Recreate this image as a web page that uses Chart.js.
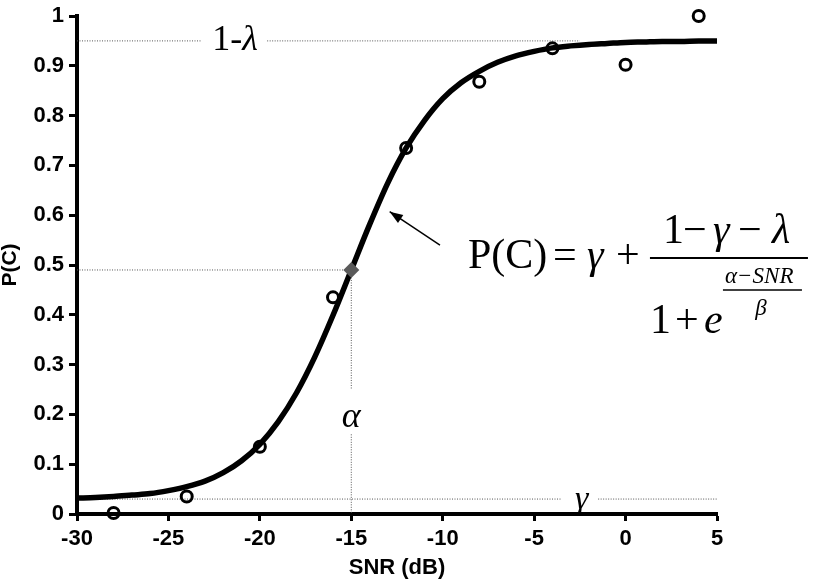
<!DOCTYPE html>
<html>
<head>
<meta charset="utf-8">
<script src="https://cdn.jsdelivr.net/npm/chart.js@4.4.0/dist/chart.umd.min.js"></script>
<style>
  html, body { margin: 0; padding: 0; background: #fff; }
</style>
</head>
<body>
<canvas id="myChart" width="813" height="581"></canvas>
<script>
// measured points (open circles)
let snrPoints = [-28, -24, -20, -16, -12, -8, -4, 0, 4];
let pcPoints = [0.002, 0.035, 0.135, 0.435, 0.735, 0.868, 0.935, 0.902, 1.0];

// fitted curve at each dB
let curveSnr = [-30, -29, -28, -27, -26, -25, -24, -23, -22, -21, -20, -19, -18, -17, -16, -15, -14, -13,
                -12, -11, -10, -9, -8, -7, -6, -5, -4, -3, -2, -1, 0, 1, 2, 3, 4, 5];
let curvePc = [0.032, 0.033, 0.035, 0.038, 0.041, 0.047, 0.055, 0.066, 0.083, 0.107, 0.140, 0.185, 0.243,
               0.315, 0.399, 0.490, 0.581, 0.665, 0.735, 0.790, 0.834, 0.866, 0.889, 0.907, 0.920, 0.929,
               0.936, 0.940, 0.943, 0.945, 0.947, 0.948, 0.949, 0.949, 0.950, 0.950];

// threshold marker
let alphaSnr = [-15];
let alphaPc = [0.49];

// reference levels
let gammaLevel = 0.03;
let upperLevel = 0.95;

let xTicks = [-30, -25, -20, -15, -10, -5, 0, 5];
let yTicks = [0, 0.1, 0.2, 0.3, 0.4, 0.5, 0.6, 0.7, 0.8, 0.9, 1];

const serif = '"Liberation Serif", "Times New Roman", serif';
const sans = 'Liberation Sans';

function dotted(ctx, x1, y1, x2, y2) {
  ctx.save();
  ctx.strokeStyle = '#555';
  ctx.lineWidth = 1;
  ctx.setLineDash([1, 1.5]);
  ctx.beginPath();
  ctx.moveTo(x1, y1);
  ctx.lineTo(x2, y2);
  ctx.stroke();
  ctx.restore();
}

const guides = {
  id: 'guides',
  beforeDatasetsDraw(chart) {
    let ctx = chart.ctx, xs = chart.scales.x, ys = chart.scales.y;
    let X = v => xs.getPixelForValue(v), Y = v => ys.getPixelForValue(v);
    // 1-lambda
    dotted(ctx, X(-30), Y(upperLevel), X(-23.2), Y(upperLevel));
    dotted(ctx, X(-19.6), Y(upperLevel), X(-2.5), Y(upperLevel));
    // gamma
    dotted(ctx, X(-30), Y(gammaLevel), X(-3.5), Y(gammaLevel));
    dotted(ctx, X(-1.5), Y(gammaLevel), X(5), Y(gammaLevel));
    // alpha
    dotted(ctx, X(-30), Y(alphaPc[0]), X(alphaSnr[0]), Y(alphaPc[0]));
    dotted(ctx, X(alphaSnr[0]), Y(alphaPc[0]), X(alphaSnr[0]), Y(0.252));
    dotted(ctx, X(alphaSnr[0]), Y(0.16), X(alphaSnr[0]), Y(0));
  },
  afterDraw(chart) {
    let ctx = chart.ctx, xs = chart.scales.x, ys = chart.scales.y;
    let X = v => xs.getPixelForValue(v), Y = v => ys.getPixelForValue(v);
    ctx.save();
    ctx.fillStyle = '#000';
    ctx.textBaseline = 'middle';
    ctx.textAlign = 'left';
    // 1-lambda label
    let lx = X(-22.6), ly = Y(upperLevel);
    ctx.font = '36px ' + serif;
    ctx.fillText('1-', lx, ly);
    let w = ctx.measureText('1-').width;
    ctx.font = 'italic 36px ' + serif;
    ctx.fillText('λ', lx + w, ly);
    // alpha, gamma
    ctx.textAlign = 'center';
    ctx.font = 'italic 36px ' + serif;
    ctx.fillText('α', X(alphaSnr[0]), Y(0.193));
    ctx.font = 'italic 34px ' + serif;
    ctx.fillText('γ', X(-2.4), Y(0.028));

    // arrow
    let ax1 = X(-10.15), ay1 = Y(0.54), ax2 = X(-12.9), ay2 = Y(0.607);
    ctx.strokeStyle = '#000';
    ctx.lineWidth = 1.5;
    ctx.beginPath(); ctx.moveTo(ax1, ay1); ctx.lineTo(ax2, ay2); ctx.stroke();
    let ang = Math.atan2(ay2 - ay1, ax2 - ax1);
    ctx.beginPath();
    ctx.moveTo(ax2, ay2);
    ctx.lineTo(ax2 - 14 * Math.cos(ang - 0.35), ay2 - 14 * Math.sin(ang - 0.35));
    ctx.lineTo(ax2 - 14 * Math.cos(ang + 0.35), ay2 - 14 * Math.sin(ang + 0.35));
    ctx.closePath(); ctx.fill();

    // formula
    let fx = X(-8.62), fy = Y(0.494);
    ctx.textAlign = 'left';
    ctx.textBaseline = 'alphabetic';
    ctx.font = '42px ' + serif;
    ctx.fillText('P(C)', fx, fy);
    ctx.fillText('=', fx + 85, fy);
    ctx.fillText('+', fx + 148, fy);
    ctx.font = 'italic 42px ' + serif;
    ctx.fillText('γ', fx + 119, fy);
    // numerator
    ctx.font = '42px ' + serif;
    ctx.fillText('1', fx + 195, fy - 25);
    ctx.fillText('−', fx + 215, fy - 25);
    ctx.fillText('−', fx + 270, fy - 25);
    ctx.font = 'italic 42px ' + serif;
    ctx.fillText('γ', fx + 245, fy - 25);
    ctx.fillText('λ', fx + 304, fy - 25);
    ctx.lineWidth = 2;
    ctx.beginPath(); ctx.moveTo(fx + 182, fy - 10); ctx.lineTo(fx + 340, fy - 10); ctx.stroke();
    // denominator
    ctx.font = '42px ' + serif;
    ctx.fillText('1', fx + 182, fy + 65);
    ctx.fillText('+', fx + 207, fy + 65);
    ctx.font = 'italic 42px ' + serif;
    ctx.fillText('e', fx + 236, fy + 65);
    ctx.font = 'italic 23px ' + serif;
    ctx.fillText('α−SNR', fx + 257, fy + 15);
    ctx.lineWidth = 1.5;
    ctx.beginPath(); ctx.moveTo(fx + 255, fy + 22); ctx.lineTo(fx + 334, fy + 22); ctx.stroke();
    ctx.textAlign = 'center';
    ctx.fillText('β', fx + 293, fy + 47);
    ctx.restore();
  }
};

let ctx = document.getElementById('myChart');
let myChart = new Chart(ctx, {
  type: 'scatter',
  data: {
    datasets: [{
      label: 'fit',
      type: 'line',
      data: curveSnr.map((s, i) => ({ x: s, y: curvePc[i] })),
      borderColor: '#000',
      borderWidth: 5.5,
      pointRadius: 0,
      cubicInterpolationMode: 'monotone',
      fill: false,
      clip: false,
      order: 2
    }, {
      label: 'data',
      data: snrPoints.map((s, i) => ({ x: s, y: pcPoints[i] })),
      pointStyle: 'circle',
      pointRadius: 5.5,
      borderColor: '#000',
      borderWidth: 3,
      backgroundColor: 'rgba(0,0,0,0)',
      clip: false,
      order: 1
    }, {
      label: 'alpha',
      data: alphaSnr.map((s, i) => ({ x: s, y: alphaPc[i] })),
      pointStyle: 'rectRot',
      pointRadius: 8,
      borderWidth: 0,
      backgroundColor: '#5a5a5a',
      order: 0
    }]
  },
  options: {
    responsive: false,
    animation: false,
    layout: { padding: { top: 10, right: 96, left: 0, bottom: 0 } },
    plugins: { legend: { display: false }, tooltip: { enabled: false } },
    scales: {
      x: {
        type: 'linear', min: -30, max: 5,
        afterBuildTicks: s => { s.ticks = xTicks.map(v => ({ value: v })); },
        afterFit: s => { s.height = 67; },
        grid: { drawOnChartArea: false, drawTicks: true, tickLength: 7, tickWidth: 3, tickColor: '#000' },
        border: { display: true, color: '#000', width: 4 },
        ticks: { color: '#000', padding: 5, font: { family: sans, size: 22, weight: 'bold' } },
        title: { display: true, text: 'SNR (dB)', color: '#000', padding: 0,
                 font: { family: sans, size: 22, weight: 'bold' } }
      },
      y: {
        type: 'linear', min: 0, max: 1,
        afterBuildTicks: s => { s.ticks = yTicks.map(v => ({ value: v })); },
        afterFit: s => { s.width = 77; },
        grid: { drawOnChartArea: false, drawTicks: true, tickLength: 8, tickWidth: 3, tickColor: '#000' },
        border: { display: true, color: '#000', width: 4 },
        ticks: { color: '#000', padding: 5, font: { family: sans, size: 22, weight: 'bold', lineHeight: 1 },
                 callback: v => String(Math.round(v * 10) / 10) },
        title: { display: true, text: 'P(C)', color: '#000', padding: 0,
                 font: { family: sans, size: 21, weight: 'bold', lineHeight: 1 } }
      }
    }
  },
  plugins: [guides]
});
</script>
</body>
</html>
